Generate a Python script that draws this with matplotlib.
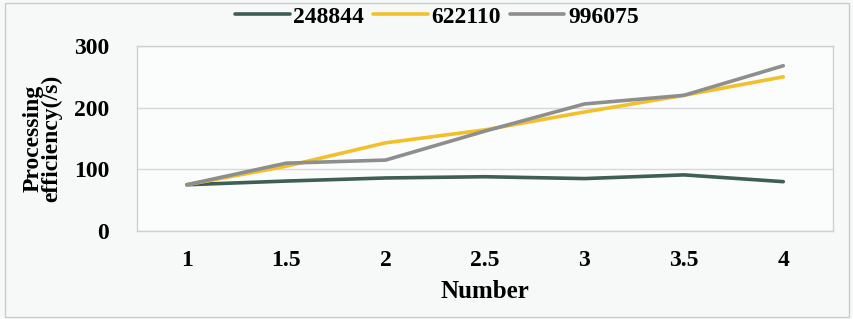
import matplotlib
matplotlib.use("Agg")
import matplotlib.pyplot as plt
from matplotlib.patches import Rectangle

plt.rcParams["font.family"] = ["Liberation Serif", "DejaVu Serif"]
plt.rcParams["hatch.color"] = "#e6ecec"
plt.rcParams["hatch.linewidth"] = 0.6

# data
numbers = ["1", "1.5", "2", "2.5", "3", "3.5", "4"]
s_248844 = [75, 81, 86, 88, 85, 91, 80]
s_622110 = [75, 105, 143, 164, 193, 220, 250]
s_996075 = [75, 110, 115, 162, 206, 220, 268]
series_names = ["248844", "622110", "996075"]

COLORS = ["#3e5e56", "#f2c02a", "#8e8e8e"]
W, H = 854, 319
FS = 17

fig = plt.figure(figsize=(W / 100, H / 100), dpi=100, facecolor="#f7f9f9")
# faint diagonal texture and outer frame
fig.patches.append(Rectangle((0, 0), 1, 1, transform=fig.transFigure,
                             facecolor="none", edgecolor="none", hatch="////////",
                             zorder=0))
fig.patches.append(Rectangle((5 / W, 2 / H), 1 - 10 / W, 1 - 5 / H,
                             transform=fig.transFigure, facecolor="none",
                             edgecolor="#c8cccc", lw=1.0, zorder=1))

ax = fig.add_axes([137 / W, 1 - 231 / H, (833 - 137) / W, (231 - 46) / H])
ax.set_facecolor("#fbfcfc")

x = range(len(numbers))
for vals, name, col in zip([s_248844, s_622110, s_996075], series_names, COLORS):
    ax.plot(x, vals, color=col, lw=2.6, label=name, solid_joinstyle="round",
            solid_capstyle="round")

ax.set_xlim(-0.5, len(numbers) - 0.5)
ax.set_ylim(0, 300)
ax.set_yticks([0, 100, 200, 300])
ax.set_xticks(list(x))
ax.set_xticklabels(numbers)
ax.tick_params(length=0, labelsize=FS, pad=20)
ax.tick_params(axis="x", pad=14)
for lab in ax.get_xticklabels() + ax.get_yticklabels():
    lab.set_fontweight("bold")
ax.grid(axis="y", color="#d8d8d8", lw=1.0)
ax.set_axisbelow(True)
for sp in ax.spines.values():
    sp.set_color("#d0d0d0")
    sp.set_linewidth(1.0)

ax.set_xlabel("Number", fontsize=FS + 1, fontweight="bold", labelpad=6)
ax.set_ylabel("Processing\nefficiency(/s)", fontsize=FS, fontweight="bold",
              labelpad=8, linespacing=0.85)

fig.legend(loc="center", bbox_to_anchor=(437 / W, 1 - 17 / H), ncol=3,
           frameon=False, handlelength=2.3, handletextpad=0.15,
           columnspacing=0.4, prop={"weight": "bold", "size": FS})

fig.savefig("out.png", dpi=100, facecolor=fig.get_facecolor())
